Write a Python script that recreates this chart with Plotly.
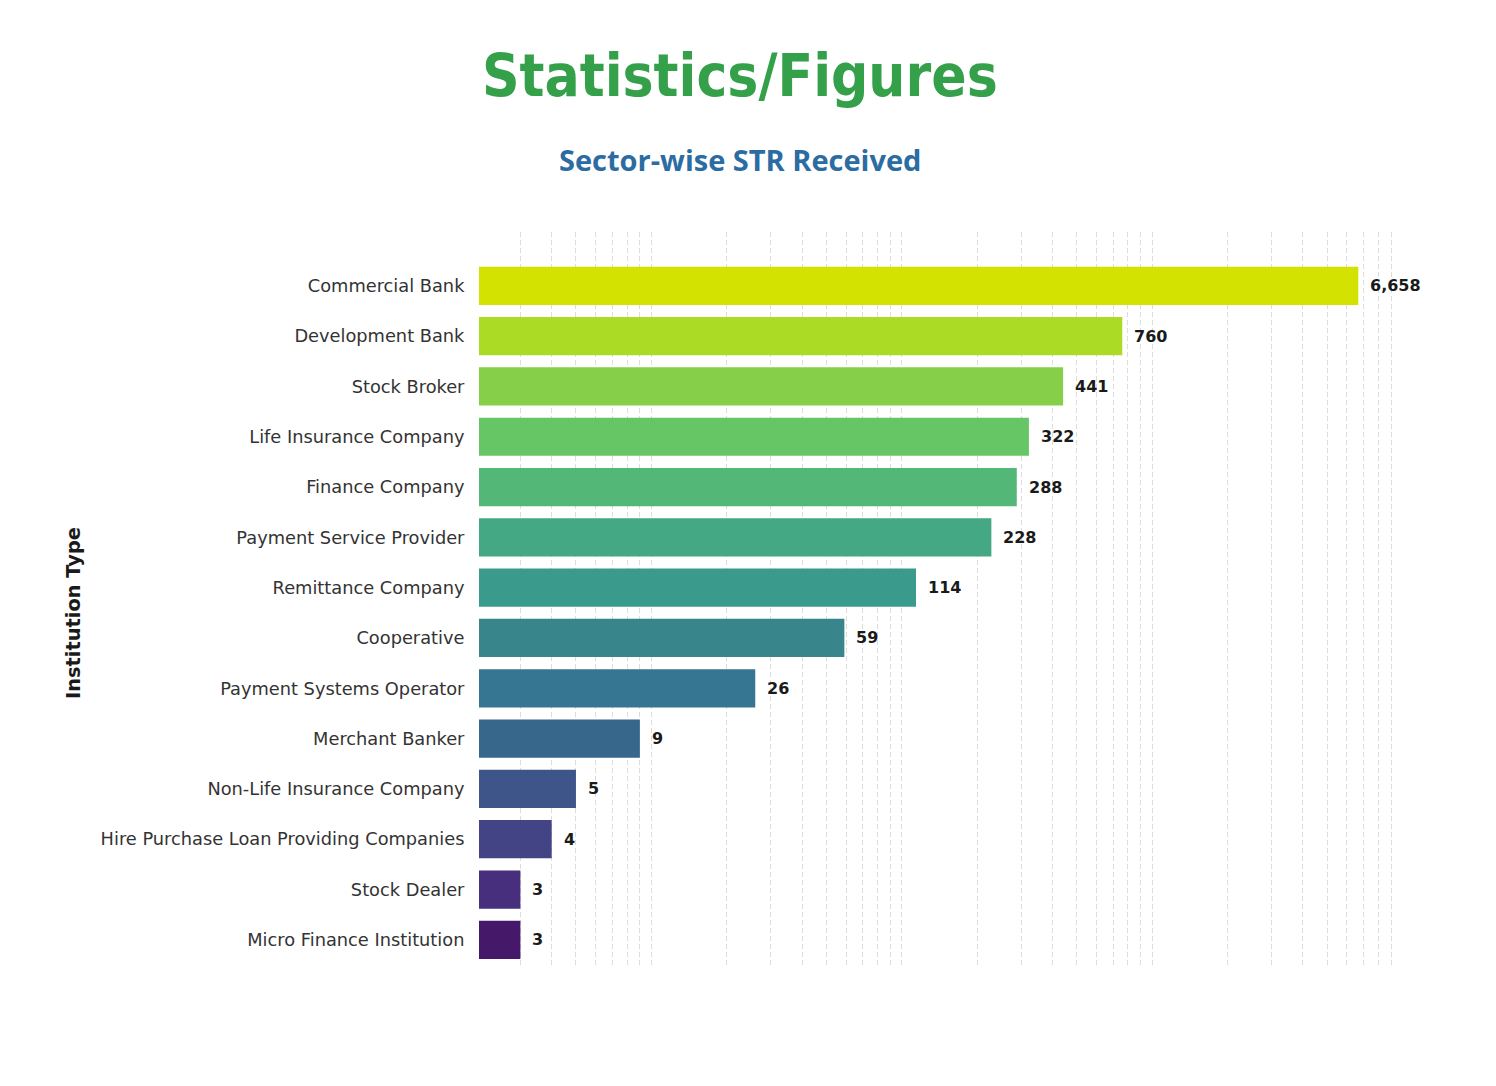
import math
import plotly.graph_objects as go

categories = [
    "Commercial Bank", "Development Bank", "Stock Broker", "Life Insurance Company",
    "Finance Company", "Payment Service Provider", "Remittance Company", "Cooperative",
    "Payment Systems Operator", "Merchant Banker", "Non-Life Insurance Company",
    "Hire Purchase Loan Providing Companies", "Stock Dealer", "Micro Finance Institution",
]
values = [6658, 760, 441, 322, 288, 228, 114, 59, 26, 9, 5, 4, 3, 3]
bar_colors = [
    "#d3e200", "#abdb25", "#86d049", "#66c564", "#52b777", "#43a883", "#3a9a8b",
    "#38858b", "#377693", "#38678c", "#3e5589", "#434485", "#472f7d", "#46186a",
]

W, H = 1496, 1086
L, R, T, B = 479, 1400, 232, 968


def px_to_paper(xp, yp):
    return (xp - L) / (R - L), (B - yp) / (B - T)


fig = go.Figure()
fig.add_trace(go.Bar(
    y=categories, x=values, orientation="h",
    marker=dict(color=bar_colors, line=dict(width=0)),
    width=0.76, showlegend=False, hoverinfo="x+y",
))

for c, v in zip(categories, values):
    fig.add_annotation(
        x=math.log10(v), y=c, xref="x", yref="y",
        text=f"<b>{v:,}</b>", showarrow=False, xanchor="left", xshift=10,
        font=dict(family="DejaVu Sans", size=16, color="#1a1a1a"),
    )

tx, ty = px_to_paper(740, 76)
fig.add_annotation(
    x=tx, y=ty, xref="paper", yref="paper",
    text="<b>Statistics/Figures</b>", showarrow=False, xanchor="center", yanchor="middle",
    font=dict(family="DejaVu Sans Condensed, DejaVu Sans", size=58, color="#34a04a"),
)
sx, sy = px_to_paper(740, 159)
fig.add_annotation(
    x=sx, y=sy, xref="paper", yref="paper",
    text="<b>Sector-wise STR Received</b>", showarrow=False, xanchor="center", yanchor="middle",
    font=dict(family="Open Sans", size=29, color="#2b6ca3"),
)
ax, ay = px_to_paper(73, 613)
fig.add_annotation(
    x=ax, y=ay, xref="paper", yref="paper",
    text="<b>Institution Type</b>", showarrow=False, textangle=-90,
    xanchor="center", yanchor="middle",
    font=dict(family="DejaVu Sans", size=19.4, color="#1a1a1a"),
)

x0 = math.log10(2.05)
px_per_dec = 250.4
x1 = x0 + (R - L) / px_per_dec

fig.update_layout(
    width=W, height=H,
    margin=dict(l=L, r=W - R, t=T, b=H - B, pad=0),
    paper_bgcolor="white", plot_bgcolor="white",
    bargap=0.24,
    xaxis=dict(
        type="log", range=[x0, x1], dtick="D1", showticklabels=False,
        showgrid=True, gridcolor="#dcdcdc", griddash="5px,3px", gridwidth=1,
        zeroline=False, showline=False, ticks="",
    ),
    yaxis=dict(
        type="category", range=[13.56, -1.07], showgrid=False, zeroline=False,
        showline=False, ticks="outside", ticklen=10, tickcolor="rgba(0,0,0,0)",
        tickfont=dict(family="DejaVu Sans", size=17.8, color="#333333"),
    ),
)

fig.write_html("out.html")
